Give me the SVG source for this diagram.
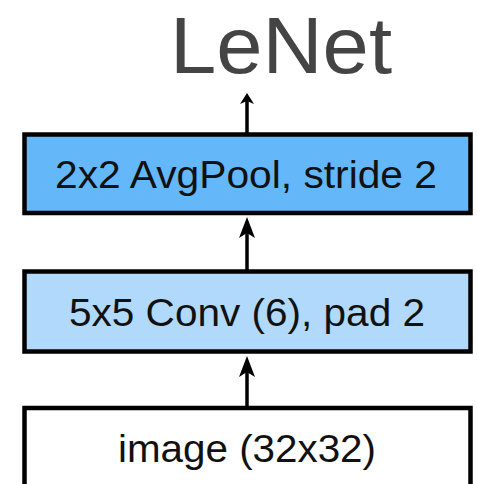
<svg xmlns="http://www.w3.org/2000/svg" width="477" height="484" viewBox="0 0 477 484">
<style>
.box{stroke:#000;stroke-width:4.5}
.lbl{font-family:"Liberation Sans",Arial,sans-serif;font-size:38px;fill:#111;text-anchor:middle}
.edge{stroke:#000;stroke-width:3.5;fill:none}
.head{fill:#000}
</style>
<rect width="477" height="484" fill="#fff"/>
<g id="title">
<text x="281" y="73" style="font-family:'Liberation Sans',Arial,sans-serif;font-size:80px;fill:#444;text-anchor:middle" textLength="222" lengthAdjust="spacingAndGlyphs">LeNet</text>
</g>
<g id="connectors">
<line class="edge" x1="247" y1="408" x2="247" y2="372"/>
<path class="head" d="M247 356 L255 377 L247 372 L239 377 Z"/>
<line class="edge" x1="247" y1="270" x2="247" y2="233"/>
<path class="head" d="M247 217 L255 238 L247 233 L239 238 Z"/>
<line class="edge" x1="247" y1="133" x2="247" y2="100"/>
<path class="head" d="M247 93 L254 104 L247 101 L240 104 Z"/>
</g>
<g id="pool">
<rect class="box" x="24.5" y="134.5" width="446" height="78.5" fill="#64b7f8"/>
<text class="lbl" x="246" y="188" textLength="382" lengthAdjust="spacingAndGlyphs">2x2 AvgPool, stride 2</text>
</g>
<g id="conv">
<rect class="box" x="24.5" y="271.5" width="446" height="80" fill="#b1d9fc"/>
<text class="lbl" x="247" y="326" textLength="356" lengthAdjust="spacingAndGlyphs">5x5 Conv (6), pad 2</text>
</g>
<g id="image">
<rect class="box" x="24.5" y="408" width="446" height="90" fill="#fff"/>
<text class="lbl" x="247" y="462" textLength="258" lengthAdjust="spacingAndGlyphs">image (32x32)</text>
</g>
</svg>
